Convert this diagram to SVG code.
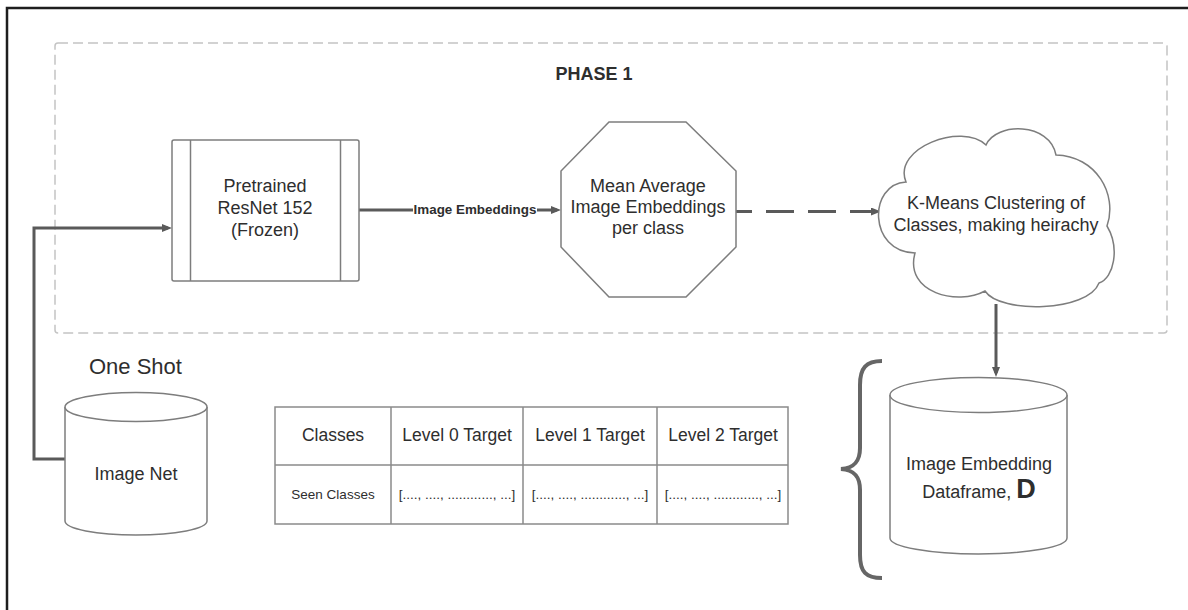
<svg xmlns="http://www.w3.org/2000/svg" width="1188" height="610" viewBox="0 0 1188 610">
<style>
  text { font-family: "Liberation Sans", Arial, sans-serif; fill: #2e2e2e; }
  .node { fill: #fff; stroke: #7d7d7d; stroke-width: 1.5; }
  .conn { fill: none; stroke: #5a5a5a; stroke-width: 3; }
  .t18 { font-size: 18px; text-anchor: middle; }
  .hdr { font-size: 17.5px; text-anchor: middle; }
  .cell { font-size: 13.5px; text-anchor: middle; }
  .grid { stroke: #8a8a8a; stroke-width: 1.5; fill: none; }
</style>
<defs>
  <marker id="ah" viewBox="0 0 10 8" refX="6" refY="4" markerWidth="10" markerHeight="8" markerUnits="userSpaceOnUse" orient="auto">
    <path d="M0,0 L10,4 L0,8 z" fill="#5a5a5a"/>
  </marker>
</defs>
<rect width="1188" height="610" fill="#fff"/>
<path d="M7,610 V8 H1188" fill="none" stroke="#1e1e1e" stroke-width="2.5"/>

<g id="phase1">
  <rect x="55" y="43" width="1112" height="290" rx="3" fill="none" stroke="#c4c4c4" stroke-width="1.5" stroke-dasharray="10 5"/>
  <text x="594" y="80" font-size="18" font-weight="bold" text-anchor="middle">PHASE 1</text>
</g>

<g id="connectors">
  <path class="conn" d="M65,459 H34 V228 H168" marker-end="url(#ah)"/>
  <path class="conn" d="M359,210 H557" marker-end="url(#ah)"/>
  <rect x="413" y="200" width="124" height="18" fill="#fff"/>
  <text x="475" y="214" font-size="13.4" font-weight="bold" text-anchor="middle">Image Embeddings</text>
  <path class="conn" d="M736,211.5 H877" stroke-dasharray="28 14" stroke-dashoffset="12" marker-end="url(#ah)"/>
  <path class="conn" d="M996,304 V373" marker-end="url(#ah)"/>
</g>

<g id="resnet">
  <rect class="node" x="172" y="140" width="187" height="141" rx="2"/>
  <line class="node" x1="190.5" y1="140" x2="190.5" y2="281"/>
  <line class="node" x1="340.5" y1="140" x2="340.5" y2="281"/>
  <text class="t18" x="265" y="192">Pretrained</text>
  <text class="t18" x="265" y="214">ResNet 152</text>
  <text class="t18" x="265" y="236">(Frozen)</text>
</g>

<g id="mean-avg">
  <polygon class="node" points="609,122 686,122 736,171 736,247 686,297 609,297 561,247 561,171"/>
  <text class="t18" x="648" y="192">Mean Average</text>
  <text class="t18" x="648" y="213">Image Embeddings</text>
  <text class="t18" x="648" y="234">per class</text>
</g>

<g id="kmeans">
  <path class="node" d="M906,182 C892,148 962,122 986,145 C996,122 1050,122 1056,155 C1096,156 1118,194 1107,226 C1120,248 1114,278 1099,283 C1088,312 1000,314 985,291 C958,306 904,293 915,253 C868,252 868,184 906,182 Z"/>
  <text class="t18" x="996" y="209">K-Means Clustering of</text>
  <text class="t18" x="996" y="231">Classes, making heirachy</text>
</g>

<g id="one-shot">
  <text x="89" y="374" font-size="22">One Shot</text>
</g>

<g id="imagenet">
  <path class="node" d="M65,407 V521 A71,14 0 0 0 207,521 V407"/>
  <ellipse class="node" cx="136" cy="407" rx="71" ry="14.5"/>
  <text class="t18" x="136" y="480">Image Net</text>
</g>

<g id="table">
  <rect class="grid" x="275" y="407" width="513" height="117"/>
  <line class="grid" x1="275" y1="465" x2="788" y2="465"/>
  <line class="grid" x1="391" y1="407" x2="391" y2="524"/>
  <line class="grid" x1="523" y1="407" x2="523" y2="524"/>
  <line class="grid" x1="657" y1="407" x2="657" y2="524"/>
  <text class="hdr" x="333" y="441">Classes</text>
  <text class="hdr" x="457" y="441">Level 0 Target</text>
  <text class="hdr" x="590" y="441">Level 1 Target</text>
  <text class="hdr" x="723" y="441">Level 2 Target</text>
  <text class="cell" x="333" y="499">Seen Classes</text>
  <text class="cell" x="457" y="499">[...., ...., ............, ...]</text>
  <text class="cell" x="590" y="499">[...., ...., ............, ...]</text>
  <text class="cell" x="723" y="499">[...., ...., ............, ...]</text>
</g>

<g id="dataframe">
  <path class="node" d="M890,395 V538 A88.5,16 0 0 0 1067,538 V395"/>
  <ellipse class="node" cx="978.5" cy="395" rx="88.5" ry="17.5"/>
  <text class="t18" x="979" y="470">Image Embedding</text>
  <text class="t18" x="979" y="498">Dataframe, <tspan font-size="27" font-weight="bold">D</tspan></text>
</g>

<g id="brace">
  <path d="M882,361 C866,361 860,368 860,385 V448 C860,462 854,468 841,469 C854,470 860,476 860,490 V555 C860,572 866,578 882,578" fill="none" stroke="#666" stroke-width="4"/>
</g>
</svg>
